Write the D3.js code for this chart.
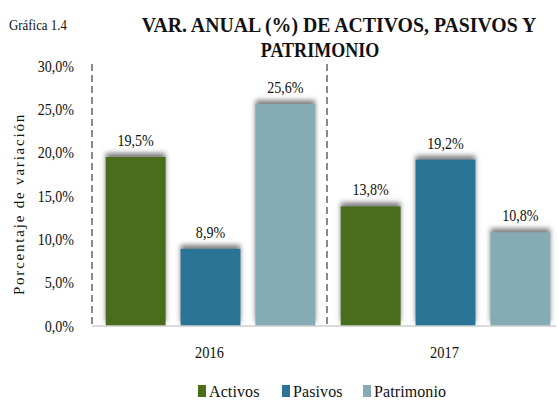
<!DOCTYPE html>
<html>
<head>
<meta charset="utf-8">
<script src="https://cdn.jsdelivr.net/npm/d3@7"></script>
<style>
  body { margin: 0; background: #fff; }
  svg text { font-family: "Liberation Serif", "DejaVu Serif", "Times New Roman", serif !important; fill: #111; }
</style>
</head>
<body>
<div id="chart"></div>
<script>
// data
var years = ["2016", "2017"];
var series = ["Activos", "Pasivos", "Patrimonio"];
var activos = [0.195, 0.138];
var pasivos = [0.089, 0.192];
var patrimonio = [0.256, 0.108];
var yTicks = [0, 0.05, 0.10, 0.15, 0.20, 0.25, 0.30];
var colors = ["#4a6d1a", "#2a7596", "#85acb5"];

var svgWidth = 558, svgHeight = 401;
var svg = d3.select("#chart").append("svg")
    .attr("width", svgWidth)
    .attr("height", svgHeight);

// soft grey shadow above each bar
var defs = svg.append("defs");
var f = defs.append("filter").attr("id", "shadow")
    .attr("x", "-10%").attr("y", "-20%").attr("width", "120%").attr("height", "140%");
f.append("feDropShadow")
    .attr("dx", 0).attr("dy", -4)
    .attr("stdDeviation", 2.4)
    .attr("flood-color", "#555")
    .attr("flood-opacity", 0.75);

var rows = years.map(function(y, i) {
    return {year: y, values: [activos[i], pasivos[i], patrimonio[i]]};
});

var x0 = d3.scaleBand().domain(years).range([92, 562]);
var x1 = d3.scaleBand().domain(series).range([0, x0.bandwidth()])
    .paddingInner(0.2).paddingOuter(0.17);
var y = d3.scaleLinear().domain([0, 0.30]).range([326, 66]);
var color = d3.scaleOrdinal().domain(series).range(colors);

var fmt = function(v) { return d3.format(".1f")(v * 100).replace(".", ",") + "%"; };

// condensed text helper
function ctext(sel, x, yy, str, size, sx, anchor, weight) {
    return sel.append("text")
        .attr("transform", "translate(" + x + "," + yy + ") scale(" + sx + ",1)")
        .attr("text-anchor", anchor || "start")
        .attr("font-size", size)
        .attr("font-weight", weight || "normal")
        .text(str);
}

// titles
ctext(svg, 9, 30, "Gráfica  1.4", 15.5, 0.83);
ctext(svg, 339, 32, "VAR. ANUAL (%) DE ACTIVOS, PASIVOS Y", 22, 0.9, "middle", "bold");
ctext(svg, 320, 57, "PATRIMONIO", 22, 0.82, "middle", "bold");

// y axis labels (no line)
var yAxis = d3.axisLeft(y).tickValues(yTicks).tickSize(0).tickPadding(0).tickFormat(fmt);
var gy = svg.append("g").attr("transform", "translate(74,0)").call(yAxis);
gy.select(".domain").remove();
gy.selectAll("text")
    .attr("font-size", 16)
    .attr("dy", "0.32em")
    .attr("transform", "scale(0.88,1)")
    .attr("x", 0);

// dashed group separators
svg.selectAll("line.sep")
    .data(years)
    .enter().append("line")
    .attr("class", "sep")
    .attr("x1", d => x0(d)).attr("x2", d => x0(d))
    .attr("y1", y(0.30) - 2).attr("y2", y(0))
    .attr("stroke", "#8a8a8a")
    .attr("stroke-width", 2)
    .attr("stroke-dasharray", "7,4");

// bars
var groups = svg.selectAll("g.year")
    .data(rows)
    .enter().append("g")
    .attr("class", "year")
    .attr("transform", d => "translate(" + x0(d.year) + ",0)");

groups.selectAll("rect")
    .data(d => d.values.map((v, i) => ({key: series[i], value: v})))
    .enter().append("rect")
    .attr("x", d => x1(d.key) + 1)
    .attr("y", d => y(d.value))
    .attr("width", x1.bandwidth())
    .attr("height", d => y(0) - y(d.value))
    .attr("fill", d => color(d.key))
    .attr("filter", "url(#shadow)");

groups.selectAll("text.val")
    .data(d => d.values.map((v, i) => ({key: series[i], value: v})))
    .enter().append("text")
    .attr("class", "val")
    .attr("transform", d => "translate(" + (x1(d.key) + 1 + x1.bandwidth() / 2) + "," + (y(d.value) - 11) + ") scale(0.88,1)")
    .attr("text-anchor", "middle")
    .attr("font-size", 16)
    .text(d => fmt(d.value));

// baseline
svg.append("line")
    .attr("x1", 92).attr("x2", 556)
    .attr("y1", y(0)).attr("y2", y(0))
    .attr("stroke", "#cfcfcf")
    .attr("stroke-width", 1.5);

// x labels
var xAxis = d3.axisBottom(x0).tickSize(0).tickPadding(0);
var gx = svg.append("g").attr("transform", "translate(0," + y(0) + ")").call(xAxis);
gx.select(".domain").remove();
gx.selectAll("text")
    .attr("font-size", 16)
    .attr("dy", 0)
    .attr("y", 32)
    .attr("x", 0)
    .attr("transform", "scale(0.9,1)");

// y axis title
svg.append("text")
    .attr("transform", "translate(24,204) rotate(-90)")
    .attr("text-anchor", "middle")
    .attr("font-size", 15)
    .attr("letter-spacing", 1.8)
    .text("Porcentaje de variación");

// legend
var legendX = [198, 282, 363];
var legend = svg.selectAll("g.leg")
    .data(series)
    .enter().append("g")
    .attr("class", "leg")
    .attr("transform", (d, i) => "translate(" + legendX[i] + ",385)");
legend.append("rect")
    .attr("width", 8).attr("height", 12)
    .attr("fill", d => color(d));
legend.append("text")
    .attr("x", 11).attr("y", 12)
    .attr("font-size", 16)
    .attr("letter-spacing", 0.1)
    .text(d => d);
</script>
</body>
</html>
